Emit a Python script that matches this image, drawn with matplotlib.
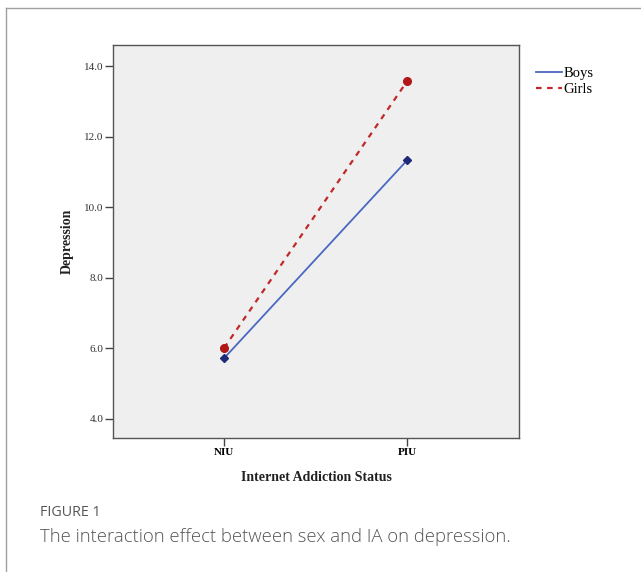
import matplotlib
matplotlib.use("Agg")
import matplotlib.pyplot as plt
from matplotlib.lines import Line2D

categories = ["NIU", "PIU"]
boys = [5.72, 11.33]
girls = [6.01, 13.57]
yticks = [4.0, 6.0, 8.0, 10.0, 12.0, 14.0]

W, H = 641, 572
fig = plt.figure(figsize=(W / 100, H / 100), dpi=100)

# outer frame
fig.add_artist(Line2D([6 / W, 6 / W], [0, 1 - 8 / H], color="#a0a0a0", lw=1.0, transform=fig.transFigure))
fig.add_artist(Line2D([6 / W, 1], [1 - 8 / H, 1 - 8 / H], color="#a0a0a0", lw=1.0, transform=fig.transFigure))

ax_l, ax_t, ax_r, ax_b = 113, 45, 519, 438
ax = fig.add_axes([ax_l / W, 1 - ax_b / H, (ax_r - ax_l) / W, (ax_b - ax_t) / H])
ax.set_facecolor("#efefef")

x = list(range(len(categories)))
ax.plot(x, boys, color="#4a68c0", lw=1.3, marker="D", markersize=4,
        markerfacecolor="#1e2a78", markeredgecolor="#1e2a78", label="Boys")
ax.plot(x, girls, color="#c0282a", lw=1.6, ls=(0, (2.5, 2.5)), marker="o", markersize=5.5,
        markerfacecolor="#b01818", markeredgecolor="#b01818", label="Girls")

ax.set_xlim(-0.607, 1.612)
ax.set_ylim(3.46, 14.6)
ax.set_xticks(x)
ax.set_xticklabels(categories, fontfamily="Liberation Serif", fontweight="bold", fontsize=8)
ax.set_yticks(yticks)
ax.set_yticklabels([f"{v:.1f}" for v in yticks], fontfamily="Liberation Serif", fontsize=8, color="#333333")
ax.tick_params(axis="both", direction="out", length=6, width=1.0, color="#444444", pad=1)
for s in ax.spines.values():
    s.set_color("#555555")
    s.set_linewidth(1.0)

ax.set_xlabel("Internet Addiction Status", fontfamily="Liberation Serif", fontweight="bold",
              fontsize=10, color="#222222", labelpad=10)
ax.set_ylabel("Depression", fontfamily="Liberation Serif", fontweight="bold",
              fontsize=10, color="#222222", labelpad=7)

leg = fig.legend(handles=ax.get_lines(), labels=["Boys", "Girls"],
                 loc="upper left", bbox_to_anchor=(536 / W, 1 - 67 / H),
                 frameon=False, prop={"family": "Liberation Serif", "size": 10.5},
                 handlelength=1.8, handletextpad=0.1, labelspacing=0.2, borderaxespad=0,
                 borderpad=0)
for h in leg.legend_handles:
    h.set_marker("")

fig.text(40 / W, 1 - 513 / H, "FIGURE 1", fontfamily="Open Sans", fontsize=10.3,
         color="#555555", va="center", ha="left")
fig.text(40 / W, 1 - 537 / H, "The interaction effect between sex and IA on depression.",
         fontfamily="Open Sans", fontweight="light", fontsize=13.3, color="#555555",
         va="center", ha="left")

fig.savefig("out.png", dpi=100)
